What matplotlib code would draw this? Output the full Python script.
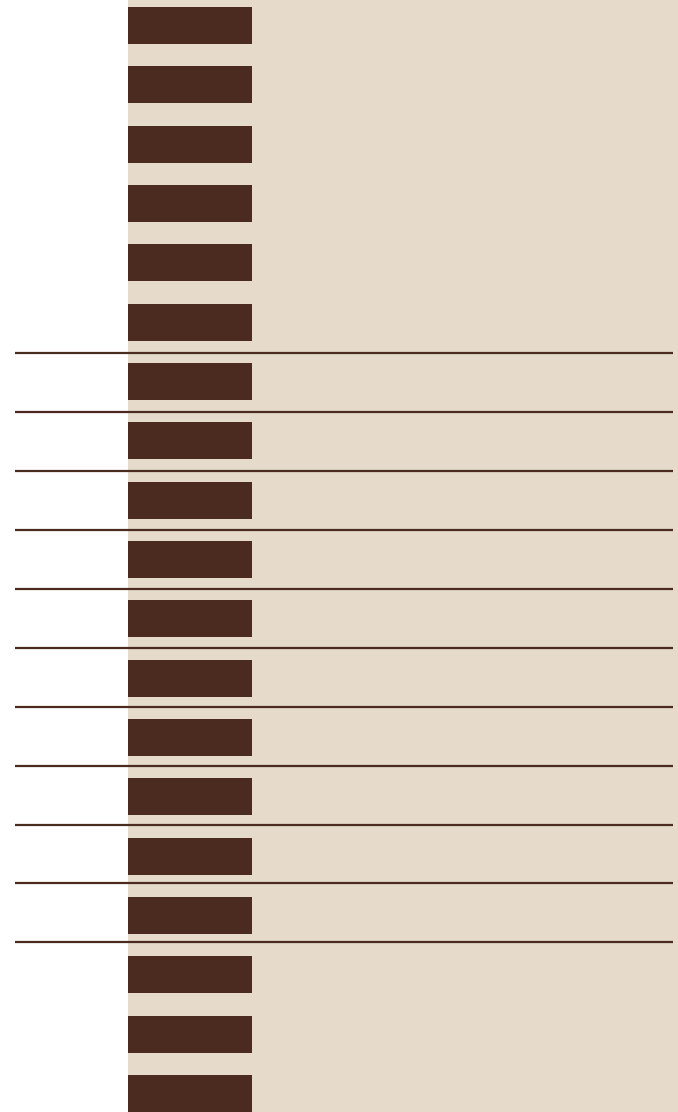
import matplotlib
matplotlib.use("Agg")
import matplotlib.pyplot as plt

# Data
categories = [f"C{i+1}" for i in range(19)]
values = [22.5] * 19
ref_lines = [5.52, 6.51, 7.51, 8.50, 9.49, 10.49, 11.48, 12.48, 13.47, 14.46, 15.45]

BAR = "#4B2B1F"
BG = "#E6DACA"

fig = plt.figure(figsize=(6.78, 11.12), dpi=100)
fig.patch.set_facecolor("white")
ax = fig.add_axes([128 / 678, 0, 550 / 678, 1])
ax.set_facecolor(BG)

pos = list(range(len(categories)))
ax.barh(pos, values, height=0.624, color=BAR, linewidth=0)
ax.set_xlim(0, 100)
ax.set_ylim(18.313, -0.43)

trans = ax.get_yaxis_transform()
for y in ref_lines:
    ax.plot([-0.2055, 0.991], [y, y], transform=trans, color=BAR,
            linewidth=1.6, clip_on=False, solid_capstyle="butt")

ax.set_xticks([])
ax.set_yticks([])
for s in ax.spines.values():
    s.set_visible(False)

fig.savefig("out.png", dpi=100, facecolor=fig.get_facecolor())
